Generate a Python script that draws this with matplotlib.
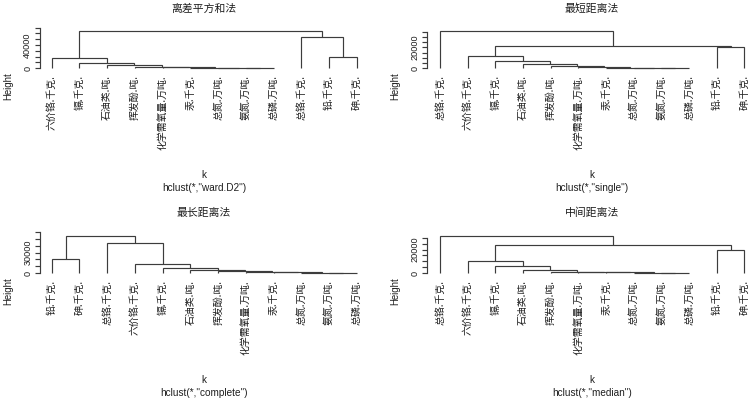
import matplotlib
matplotlib.use("Agg")
import matplotlib.pyplot as plt

# ---------------- data ----------------
labels_ward = ["六价铬.千克.", "镉.千克.", "石油类.吨.", "挥发酚.吨.", "化学需氧量.万吨.", "汞.千克.",
               "总氮.万吨.", "氨氮.万吨.", "总磷.万吨.", "总铬.千克.", "铅.千克.", "砷.千克."]
merges_ward = [(-8, -9), (-7, 1), (-6, 2), (-5, 3), (-4, 4), (-3, 5), (-2, 6), (-1, 7),
               (-11, -12), (-10, 9), (8, 10)]
heights_ward = [300, 500, 900, 1400, 2900, 5100, 9600, 17200, 20000, 53200, 64000]

labels_single = ["总铬.千克.", "六价铬.千克.", "镉.千克.", "石油类.吨.", "挥发酚.吨.", "化学需氧量.万吨.",
                 "汞.千克.", "总氮.万吨.", "氨氮.万吨.", "总磷.万吨.", "铅.千克.", "砷.千克."]
merges_single = [(-9, -10), (-8, 1), (-7, 2), (-6, 3), (-5, 4), (-4, 5), (-3, 6), (-2, 7),
                 (-11, -12), (8, 9), (-1, 10)]
heights_single = [300, 500, 700, 1000, 2200, 3900, 7100, 11900, 20000, 21000, 35700]

labels_complete = ["铅.千克.", "砷.千克.", "总铬.千克.", "六价铬.千克.", "镉.千克.", "石油类.吨.",
                   "挥发酚.吨.", "化学需氧量.万吨.", "汞.千克.", "总氮.万吨.", "氨氮.万吨.", "总磷.万吨."]
merges_complete = [(-11, -12), (-10, 1), (-9, 2), (-8, 3), (-7, 4), (-6, 5), (-5, 6), (-4, 7),
                   (-1, -2), (-3, 8), (9, 10)]
heights_complete = [300, 500, 900, 1400, 2900, 4300, 7100, 13300, 20000, 43700, 55000]

labels_median = labels_single
merges_median = [(-9, -10), (-8, 1), (-7, 2), (-6, 3), (-5, 4), (-4, 5), (-3, 6), (-2, 7),
                 (-11, -12), (8, 9), (-1, 10)]
heights_median = [300, 400, 500, 700, 1200, 2400, 5900, 10600, 20000, 23500, 31800]

ticks_ward = [0, 10000, 20000, 30000, 40000, 50000, 60000, 70000]
shown_ward = [0, 40000]
ticks_single = [0, 5000, 10000, 15000, 20000, 25000, 30000, 35000]
shown_single = [0, 20000]
ticks_complete = [0, 10000, 20000, 30000, 40000, 50000, 60000]
shown_complete = [0, 30000]
ticks_median = [0, 5000, 10000, 15000, 20000, 25000, 30000]
shown_median = [0, 20000]

titles = ["离差平方和法", "最短距离法", "最长距离法", "中间距离法"]
methods = ["ward.D2", "single", "complete", "median"]
xlab = "k"

# ---------------- layout ----------------
W, H = 751, 399
fig = plt.figure(figsize=(W / 100, H / 100), dpi=100)
fig.patch.set_facecolor("white")
renderer = fig.canvas.get_renderer()

CJK = ["Noto Sans CJK SC", "DejaVu Sans"]
LAT = ["Liberation Sans", "DejaVu Sans"]
LINE = "#3c3c3c"
TXT = "#1e1e1e"
D = 37.3  # px between zero and the top merge


def fit(s, fam, target_px):
    t = fig.text(0, 0, s, fontsize=10, family=fam)
    w = t.get_window_extent(renderer).width
    t.remove()
    return 10 * target_px / w


fs_leaf = fit("化学需氧量.万吨.", CJK, 75)
fs_title = fit("离差平方和法", CJK, 65)
fs_height = fit("Height", LAT, 28)
fs_sub = fit('hclust(*,"ward.D2")', LAT, 84)
fs_tick = 6.6

panels = [
    # labels, merges, heights, ticks, shown, leaf1_x, dx, axis_x, baseline_y, center_x
    (labels_ward, merges_ward, heights_ward, ticks_ward, shown_ward, 51.7, 27.73, 40.0, 68.3, 204.0),
    (labels_single, merges_single, heights_single, ticks_single, shown_single, 440.0, 27.67, 427.0, 68.3, 592.0),
    (labels_complete, merges_complete, heights_complete, ticks_complete, shown_complete, 51.7, 27.73, 40.0, 273.0, 204.0),
    (labels_median, merges_median, heights_median, ticks_median, shown_median, 440.0, 27.67, 427.0, 273.0, 592.0),
]


def fx(px):
    return px / W


def fy(py):
    return 1 - py / H


for k, (labs, merges, hts, ticks, shown, x1, dx, axx, y0, cx) in enumerate(panels):
    n = len(labs)
    top = max(hts)
    s = D / top  # px per unit
    below, above = 3.0, 8.0
    left_px = axx
    right_px = x1 + (n - 1) * dx + 0.5 * dx
    top_px = y0 - D - above
    bot_px = y0 + below
    ax = fig.add_axes([fx(left_px), fy(bot_px), fx(right_px - left_px), (bot_px - top_px) / H])
    xl0 = 1 - (x1 - axx) / dx
    ax.set_xlim(xl0, n + 0.5)
    ax.set_ylim(-below / s, top + above / s)
    ax.patch.set_alpha(0)

    # dendrogram
    xs, hs = {}, {}
    def pos(r):
        if r < 0:
            return float(-r), 0.0
        return xs[r], hs[r]
    for i, ((a, b), h) in enumerate(zip(merges, hts), start=1):
        xa, ha = pos(a)
        xb, hb = pos(b)
        ax.plot([xa, xa, xb, xb], [ha, h, h, hb], color=LINE, lw=0.85,
                solid_capstyle="butt", solid_joinstyle="miter")
        xs[i] = (xa + xb) / 2
        hs[i] = h

    # leaf labels
    for i, lab in enumerate(labs, start=1):
        ax.annotate(lab, xy=(i, 0), xytext=(0, -5.0), textcoords="offset points",
                    rotation=90, ha="center", va="top", fontsize=fs_leaf, family=CJK,
                    color=TXT, annotation_clip=False)

    # axes styling
    for sp in ["top", "right", "bottom"]:
        ax.spines[sp].set_visible(False)
    ax.spines["left"].set_bounds(ticks[0], ticks[-1])
    ax.spines["left"].set_color(LINE)
    ax.spines["left"].set_linewidth(0.85)
    ax.set_xticks([])
    ax.set_yticks(ticks)
    ax.set_yticklabels([str(t) if t in shown else "" for t in ticks])
    ax.tick_params(axis="y", length=3.6, width=0.85, color=LINE, pad=2.0, labelsize=fs_tick)
    for tl in ax.get_yticklabels():
        tl.set_rotation(90)
        tl.set_va("center")
        tl.set_ha("right")
        tl.set_family(LAT)
        tl.set_color(TXT)

    # texts
    fig.text(fx(cx), fy(y0 - 60.0), titles[k], ha="center", va="center", fontsize=fs_title,
             family=CJK, color=TXT)
    fig.text(fx(axx - 31.5), fy(y0 + 17.7), "Height", ha="center", va="center", rotation=90,
             fontsize=fs_height, family=LAT, color=TXT)
    fig.text(fx(cx), fy(y0 + 106.7), xlab, ha="center", va="center", fontsize=fs_sub,
             family=LAT, color=TXT)
    fig.text(fx(cx), fy(y0 + 119.7), 'hclust(*,"%s")' % methods[k], ha="center", va="center",
             fontsize=fs_sub, family=LAT, color=TXT)

fig.savefig("out.png", dpi=100, facecolor="white")
